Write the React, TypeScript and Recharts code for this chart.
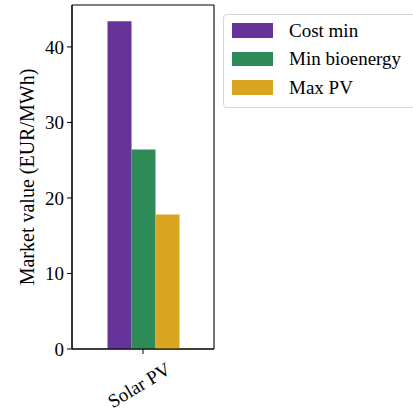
import React from "react";
import { Bar, BarChart, CartesianGrid, Legend, XAxis, YAxis } from "recharts";

// One technology, three scenarios. (EUR/MWh).
const categories = ["Solar PV"];
const scenarios = ["Cost min", "Min bioenergy", "Max PV"];
const costMin = [43.4];
const minBioenergy = [26.4];
const maxPV = [17.8];
const yTicks = [0, 10, 20, 30, 40];

const COLORS = ["#663399", "#2e8b57", "#daa520"];
const FONT = "'Liberation Serif', 'Times New Roman', serif";

const data = categories.map((c, i) => ({
  name: c,
  costMin: costMin[i],
  minBioenergy: minBioenergy[i],
  maxPV: maxPV[i],
}));

const KEYS = ["costMin", "minBioenergy", "maxPV"] as const;

// matplotlib-style tick label: rotated 30°, centred under the tick
function RotatedTick(props: any) {
  const { x, y, payload } = props;
  const cx = x - 4;
  const cy = y + 29;
  return (
    <text
      x={cx}
      y={cy}
      textAnchor="middle"
      dominantBaseline="central"
      transform={`rotate(-31 ${cx} ${cy})`}
      fontFamily={FONT}
      fontSize={19}
      fill="#000"
    >
      {payload.value}
    </text>
  );
}

function LegendBox() {
  return (
    <div
      style={{
        border: "1px solid #d6d6d6",
        borderRadius: 4,
        background: "rgba(255,255,255,0.8)",
        padding: "1px 0 5px 8px",
        width: 200,
        boxSizing: "border-box",
        fontFamily: FONT,
        fontSize: 19,
        color: "#000",
      }}
    >
      {scenarios.map((s, i) => (
        <div key={s} style={{ display: "flex", alignItems: "center", height: 28.5 }}>
          <div style={{ width: 41, height: 14.5, background: COLORS[i], marginRight: 16 }} />
          <span style={{ lineHeight: 1 }}>{s}</span>
        </div>
      ))}
    </div>
  );
}

export default function App() {
  return (
    <div style={{ width: 413, height: 411, overflow: "hidden", background: "#fff" }}>
      <style>{"body{margin:0}"}</style>
      <BarChart
        width={413}
        height={411}
        data={data}
        margin={{ top: 5, right: 199, bottom: 0, left: 0 }}
        barCategoryGap="25%"
        barGap={0}
      >
        {/* the grid is only used to draw the closed frame round the plot */}
        <CartesianGrid
          stroke="#000"
          strokeWidth={1.1}
          horizontalCoordinatesGenerator={({ offset }: any) => [offset.top, offset.top + offset.height]}
          verticalCoordinatesGenerator={({ offset }: any) => [offset.left, offset.left + offset.width]}
        />
        <XAxis
          dataKey="name"
          height={62}
          interval={0}
          tick={<RotatedTick />}
          tickSize={5}
          axisLine={{ stroke: "#000", strokeWidth: 1.1 }}
          tickLine={{ stroke: "#000" }}
        />
        <YAxis
          width={72}
          domain={[0, 45.55]}
          ticks={yTicks}
          allowDataOverflow
          tickSize={5}
          tickMargin={3}
          axisLine={{ stroke: "#000", strokeWidth: 1.1 }}
          tickLine={{ stroke: "#000" }}
          tick={{ fontFamily: FONT, fontSize: 19, fill: "#000" }}
          label={{
            value: "Market value (EUR/MWh)",
            angle: -90,
            position: "insideLeft",
            dx: 22,
            dy: 0,
            style: { textAnchor: "middle", fontFamily: FONT, fontSize: 20, fill: "#000" },
          }}
        />
        <Legend
          layout="vertical"
          align="center"
          verticalAlign="middle"
          wrapperStyle={{ left: 223, top: 14, width: 200 }}
          content={() => <LegendBox />}
        />
        {KEYS.map((k, i) => (
          <Bar
            key={k}
            dataKey={k}
            name={scenarios[i]}
            fill={COLORS[i]}
            isAnimationActive={false}
          />
        ))}
      </BarChart>
    </div>
  );
}
